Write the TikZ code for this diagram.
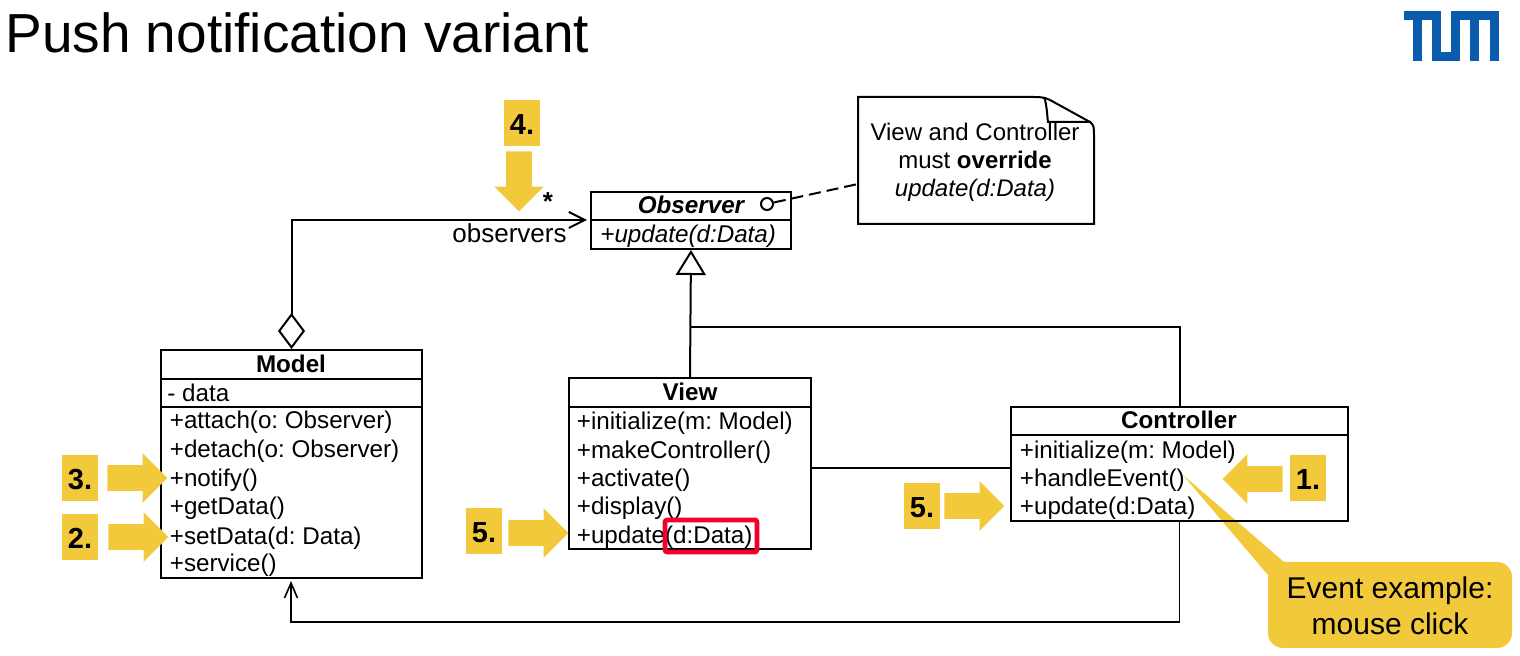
\documentclass[tikz,border=0pt]{standalone}
\usepackage{fontspec}
\setmainfont{Liberation Sans}
\usetikzlibrary{arrows.meta,shapes.arrows}
\definecolor{tumyellow}{HTML}{F3C93C}
\definecolor{tumblue}{HTML}{0B5CAD}
\definecolor{markred}{HTML}{F2002D}
\tikzset{
  classbox/.style={draw,line width=1pt,inner sep=0pt},
  classline/.style={anchor=base west,inner sep=0pt,font=\fontsize{12.1}{14}\selectfont},
  classtitle/.style={anchor=base,inner sep=0pt,font=\fontsize{12.1}{14}\selectfont\bfseries},
  notetext/.style={anchor=base,inner sep=0pt,font=\fontsize{12}{14}\selectfont},
  stepbadge/.style={fill=tumyellow,minimum width=18pt,minimum height=23pt,inner sep=0pt,text height=11.4pt,text depth=0pt,font=\fontsize{14.5}{16}\selectfont\bfseries},
  steparrow/.style={single arrow,fill=tumyellow,inner sep=0pt,text height=6.25pt,text depth=6.25pt,text width=0pt,minimum height=30pt,minimum width=24.5pt,single arrow head extend=6pt,anchor=tip},
  umlline/.style={line width=1pt},
}
\begin{document}
\frenchspacing
\begin{tikzpicture}[x=0.5pt,y=-0.5pt]
  \useasboundingbox (0,0) rectangle (1520,656);
  \node[anchor=base west,inner sep=0pt,font=\fontsize{27.5}{30}\selectfont] (title) at (5,53) {Push notification variant};
  % logo
  \foreach \xa/\ya/\xb/\yb in {1403.7/11/1441/20,1412.7/11/1421.7/61,1432/11/1441/61,1432/51.7/1460/61,1451/11/1460/61,1451/11/1498.7/20,1470.3/11/1479.3/61,1489.7/11/1498.7/61}{
    \fill[tumblue] (\xa,\ya) rectangle (\xb,\yb);
  }
  % callout
  \node[fill=tumyellow,rounded corners=7.5pt,minimum width=122pt,minimum height=43pt,inner sep=0pt] (event) at (1390,605) {};
  \coordinate (eventTip) at (1183,475);
  \fill[tumyellow] (eventTip) -- ([yshift=-6.5pt]event.north west) -- ([xshift=8pt]event.north west) -- cycle;
  \node[notetext,font=\fontsize{15}{18}\selectfont] (eventa) at (1390,599) {Event example:};
  \node[notetext,font=\fontsize{15}{18}\selectfont] (eventb) at (1390,635) {mouse click};
  % classes
  \node[classbox,minimum width=100pt,minimum height=28.5pt] (Observer) at (691,220.5) {};
  \draw[umlline] (591,220) -- (791,220);
  \node[classtitle,font=\fontsize{12.1}{14}\selectfont\bfseries\itshape] (obsTitle) at (691,214) {Observer};
  \node[classline,font=\fontsize{12.1}{14}\selectfont\itshape] (obsOp) at (600,243) {+update(d:Data)};
  \node[classbox,minimum width=130.5pt,minimum height=114pt] (Model) at (291.5,464) {};
  \draw[umlline] (161,379) -- (422,379) (161,407) -- (422,407);
  \node[classtitle] (modelTitle) at (291,373) {Model};
  \node[classline] (modelData) at (167,402) {- data};
  \foreach \y/\txt in {429/+attach(o: Observer),458/+detach(o: Observer),487/+notify(),515/+getData(),545/+setData(d: Data),572/+service()}{
    \node[classline] (model\y) at (169.5,\y) {\txt};
  }
  \node[classbox,minimum width=121pt,minimum height=85.5pt] (View) at (690,463.5) {};
  \draw[umlline] (569,407) -- (811,407);
  \node[classtitle] (viewTitle) at (690,401) {View};
  \foreach \y/\txt in {430/+initialize(m: Model),459/+makeController(),487/+activate(),515/+display(),544/+update(d:Data)}{
    \node[classline] (view\y) at (576.5,\y) {\txt};
  }
  \node[classbox,minimum width=168.5pt,minimum height=57pt] (Controller) at (1179.5,464) {};
  \draw[umlline] (1011,435) -- (1348,435);
  \node[classtitle] (ctrlTitle) at (1179,429) {Controller};
  \foreach \y/\txt in {458.5/+initialize(m: Model),486.5/+handleEvent(),514.5/+update(d:Data)}{
    \node[classline] (ctrl\y) at (1019.5,\y) {\txt};
  }
  \node[draw=markred,line width=2.3pt,rounded corners=1pt,minimum width=46pt,minimum height=16pt,inner sep=0pt] (dataMark) at (711,536) {};
  % note
  \coordinate (noteA) at (858,97);\coordinate (noteB) at (1094,224);
  \draw[umlline] (noteA) -- (1030,97) .. controls (1040,97) and (1044,97) .. (1050,100) -- (1090,122) .. controls (1094,125) and (1094,128) .. (1094,135) -- (noteB) -- (858,224) -- cycle;
  \draw[umlline] (1044,97) .. controls (1047,105) and (1047,115) .. (1048,122) -- (1091,122);
  \node[notetext] (notea) at (975,141) {View and Controller};
  \node[notetext] (noteb) at (975,169) {must \textbf{override}};
  \node[notetext] (notec) at (975,197) {\itshape update(d:Data)};
  \node[circle,draw,line width=1pt,minimum size=6pt,inner sep=0pt] (dot) at (767,204) {};
  \coordinate (noteIn) at (858,184);
  \draw[umlline,dash pattern=on 6pt off 3pt] (dot) -- (noteIn);
  % connectors
  \coordinate (obsIn) at (587,220);
  \draw[umlline,{Diamond[open,length=18pt,width=13.5pt,line width=1pt]}-{Straight Barb[length=8pt,width=8pt,line width=1pt]}] (Model.north) |- (obsIn);
  \draw[umlline,-{Triangle[open,length=12.5pt,width=15pt,line width=1pt]}] (View.north) -- (Observer.south);
  \coordinate (branch) at (691,327);
  \draw[umlline] (Controller.north) |- (branch);
  \draw[umlline] (811,468) -- (1011,468);
  \coordinate (turn) at (1179.5,622);
  \coordinate (modelIn) at (291,581);
  \draw[line width=0.9pt,-{Straight Barb[length=7.5pt,width=6.5pt,line width=0.8pt]}] (Controller.south) -- (turn) -| (modelIn);
  \node[anchor=base east,inner sep=0pt,font=\fontsize{13}{15}\selectfont] (obsLabel) at (567,243) {observers};
  \node[anchor=base,inner sep=0pt,font=\fontsize{13}{15}\selectfont\bfseries] (obsStar) at (548,211) {*};
  % steps
  \foreach \name/\txt/\x/\y in {stepA/1./1308/478,stepB/2./80/537,stepC/3./80/478,stepD/4./522/123.5,stepE/5./484/531,stepF/5./922/506}{
    \node[stepbadge] (\name) at (\x,\y) {\txt};
  }
  \foreach \name/\x/\y/\ang in {arrowA/1222/479/180,arrowB/169/537/0,arrowC/168/478/0,arrowE/569/533/0,arrowF/1005/506/0}{
    \node[steparrow,shape border rotate=\ang] (\name) at (\x,\y) {};
  }
  \node[steparrow,text width=12.5pt,text height=0pt,text depth=0pt,shape border rotate=270] (arrowD) at (519,212) {};
\end{tikzpicture}
\end{document}
